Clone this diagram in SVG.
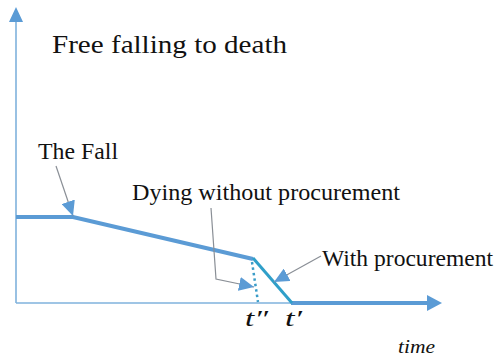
<svg xmlns="http://www.w3.org/2000/svg" width="497" height="360" viewBox="0 0 497 360">
<style>
  .lbl { font-family: "Liberation Serif", "Times New Roman", serif; fill: #111111; }
  .it { font-style: italic; }
  .axis { stroke: #7fb2dc; stroke-width: 1.6; fill: none; }
  .main { stroke: #5b9bd5; stroke-width: 4; fill: none; }
  .call { stroke: #8a8f96; stroke-width: 1.2; fill: none; marker-end: url(#ah); }
</style>
<defs>
  <marker id="ah" markerUnits="userSpaceOnUse" markerWidth="16" markerHeight="14" viewBox="0 0 16 14" refX="15" refY="7" orient="auto">
    <path d="M0,0 L15,7 L0,14 Z" fill="#5b9bd5"/>
  </marker>
</defs>
<rect width="497" height="360" fill="#ffffff"/>
<g id="axes">
  <line class="axis" x1="16" y1="303" x2="16" y2="18"/>
  <path d="M16,7 L23,22 L9,22 Z" fill="#5b9bd5"/>
  <line class="axis" x1="16" y1="303" x2="292" y2="303"/>
  <line class="main" x1="291" y1="303" x2="428" y2="303"/>
  <path d="M442,303 L427,295 L427,311 Z" fill="#5b9bd5"/>
</g>
<g id="curve">
  <polyline class="main" points="16,217 73,217 253,259"/>
  <line x1="253" y1="258" x2="292" y2="303" stroke="#2f9fc9" stroke-width="3"/>
  <line x1="252" y1="262" x2="258" y2="302" stroke="#3a9cc8" stroke-width="2.5" stroke-dasharray="2.5,3"/>
</g>
<g id="title"><text class="lbl" x="52" y="53" font-size="25" textLength="235" lengthAdjust="spacingAndGlyphs">Free falling to death</text></g>
<g id="the-fall">
  <text class="lbl" x="38" y="159" font-size="23" textLength="80" lengthAdjust="spacingAndGlyphs">The Fall</text>
</g>
<g id="dying">
  <text class="lbl" x="132" y="200" font-size="23" textLength="268" lengthAdjust="spacingAndGlyphs">Dying without procurement</text>
</g>
<g id="with">
  <text class="lbl" x="322" y="266" font-size="23" textLength="171" lengthAdjust="spacingAndGlyphs">With procurement</text>
</g>
<g id="ticks">
  <text class="lbl it" x="245" y="326" font-size="23" textLength="23" lengthAdjust="spacingAndGlyphs">t″</text>
  <text class="lbl it" x="285" y="326" font-size="23" textLength="17" lengthAdjust="spacingAndGlyphs">t′</text>
  <text class="lbl it" x="398" y="353" font-size="19" textLength="37" lengthAdjust="spacingAndGlyphs">time</text>
</g>
<g id="connectors">
  <path class="call" d="M56,166 L73,216"/>
  <path class="call" d="M211,208 L216,279 L254,287"/>
  <path class="call" d="M321,256 L274,282"/>
</g>
</svg>
